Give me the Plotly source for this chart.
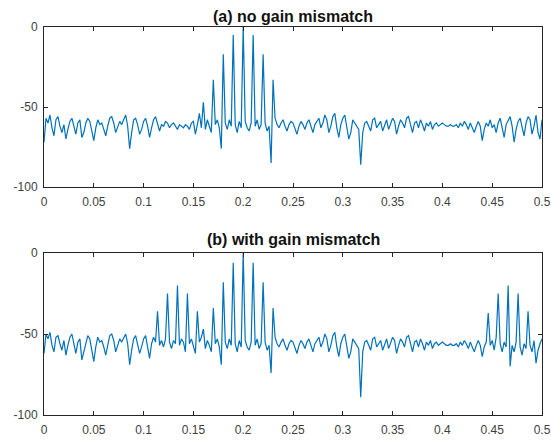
import plotly.graph_objects as go

# frequency grid: 0 to 0.5 in steps of 0.002 (251 points)
n_points = 251
freq = [i * 0.002 for i in range(n_points)]

# (a) no gain mismatch, dB
spec_a = [
    -72, -57, -60, -55, -63, -68, -58, -56, -62, -66,
    -61, -70, -64, -59, -57, -63, -67, -60, -58, -69,
    -66, -60, -57, -59, -65, -71, -63, -58, -61, -60,
    -64, -68, -62, -57, -56, -60, -66, -63, -59, -61,
    -58, -55, -62, -76, -66, -58, -57, -61, -67, -64,
    -59, -57, -62, -69, -63, -58, -56, -60, -65, -61,
    -62, -59, -60, -63, -61, -60, -62, -64, -61, -62,
    -63, -61, -62, -64, -60, -59, -67, -61, -54, -63,
    -47, -64, -58, -62, -66, -33, -61, -58, -63, -76,
    -17, -60, -64, -58, -62, -5, -61, -66, -59, -63,
    0, -59, -63, -65, -60, -5, -62, -58, -64, -61,
    -17, -60, -65, -62, -85, -33, -57, -61, -63, -60,
    -58, -62, -65, -61, -59, -60, -63, -67, -62, -59,
    -61, -64, -60, -58, -62, -66, -61, -59, -57, -63,
    -60, -55, -58, -66, -62, -56, -54, -63, -69, -61,
    -57, -55, -63, -70, -66, -58, -60, -62, -64, -86,
    -66, -60, -59, -62, -65, -58, -57, -63, -61, -59,
    -65, -62, -58, -64, -60, -57, -59, -67, -62, -58,
    -60, -63, -57, -56, -61, -66, -60, -59, -63, -58,
    -61, -65, -60, -62, -59, -64, -61, -60, -62, -61,
    -60, -61, -62, -62, -61, -62, -62, -61, -63, -60,
    -62, -59, -61, -64, -60, -63, -66, -62, -59, -62,
    -71, -64, -60, -62, -58, -63, -61, -66, -60, -57,
    -63, -69, -61, -58, -56, -62, -72, -64, -59, -57,
    -63, -68, -60, -56, -58, -67, -62, -55, -66, -70,
    -58,
]

# (b) with gain mismatch, dB
spec_b = [
    -62, -50, -53, -49, -57, -61, -52, -51, -56, -60,
    -54, -63, -57, -52, -50, -56, -62, -55, -53, -66,
    -61, -55, -51, -53, -59, -67, -58, -52, -55, -54,
    -58, -63, -57, -51, -50, -54, -61, -57, -53, -55,
    -52, -50, -56, -69, -60, -53, -51, -56, -62, -58,
    -53, -51, -57, -65, -56, -52, -55, -36, -57, -54,
    -58, -53, -25, -55, -59, -54, -56, -20, -57, -53,
    -55, -61, -25, -56, -53, -58, -62, -36, -55, -52,
    -47, -59, -54, -57, -61, -34, -56, -53, -58, -69,
    -18, -55, -59, -53, -57, -6, -56, -61, -54, -58,
    0, -54, -58, -60, -55, -6, -57, -53, -59, -56,
    -18, -55, -60, -57, -74, -34, -52, -56, -58, -55,
    -53, -57, -60, -56, -54, -55, -58, -62, -57, -54,
    -56, -59, -55, -53, -57, -61, -56, -54, -52, -58,
    -55, -50, -53, -61, -57, -51, -49, -58, -64, -56,
    -52, -50, -58, -65, -61, -53, -55, -57, -59, -89,
    -61, -55, -54, -57, -60, -53, -52, -58, -56, -54,
    -60, -57, -53, -59, -55, -52, -54, -62, -57, -53,
    -55, -58, -52, -51, -56, -61, -55, -54, -58, -53,
    -56, -60, -55, -57, -54, -59, -56, -55, -57, -56,
    -55, -56, -57, -57, -56, -57, -57, -56, -58, -55,
    -57, -54, -56, -59, -55, -58, -61, -57, -54, -57,
    -64, -58, -55, -37, -57, -54, -60, -52, -25, -56,
    -61, -55, -58, -20, -70, -57, -61, -55, -25, -58,
    -63, -56, -59, -36, -57, -61, -54, -68, -60, -56,
    -53,
]

titles = ["(a) no gain mismatch", "(b) with gain mismatch"]
x_tickvals = [0, 0.05, 0.1, 0.15, 0.2, 0.25, 0.3, 0.35, 0.4, 0.45, 0.5]
x_ticktext = ["0", "0.05", "0.1", "0.15", "0.2", "0.25", "0.3", "0.35", "0.4", "0.45", "0.5"]
y_tickvals = [-100, -50, 0]
y_ticktext = ["-100", "-50", "0"]

W, H = 551, 444
ml, mr, mt, mb = 44, 9, 27, 29
ph = H - mt - mb

def dom(top_px, bot_px):
    return [(H - mb - bot_px) / ph, (H - mb - top_px) / ph]

fig = go.Figure()
line_color = "#0072BD"
axis_color = "#262626"
label_color = "#404040"
font_family = "Liberation Sans, Arial, sans-serif"

for k, spec in enumerate([spec_a, spec_b]):
    xa = "x" if k == 0 else "x2"
    ya = "y" if k == 0 else "y2"
    fig.add_trace(go.Scatter(x=freq, y=spec, mode="lines",
                             line=dict(color=line_color, width=1.2),
                             xaxis=xa, yaxis=ya, showlegend=False,
                             hoverinfo="skip"))

ax_common = dict(showgrid=False, zeroline=False, showline=True, mirror="ticks",
                 automargin=False,
                 linecolor=axis_color, linewidth=1, ticks="inside", ticklen=4,
                 tickcolor=axis_color, tickwidth=1,
                 tickfont=dict(family=font_family, size=12, color=label_color))

d_a = dom(27, 187)
d_b = dom(253, 415)

fig.update_layout(
    width=W, height=H, autosize=False,
    margin=dict(l=ml, r=mr, t=mt, b=mb, pad=0),
    paper_bgcolor="white", plot_bgcolor="white",
    hovermode=False,
    xaxis=dict(domain=[0, 1], range=[0, 0.5], anchor="y", ticklabelstandoff=4,
               tickvals=x_tickvals, ticktext=x_ticktext, **ax_common),
    yaxis=dict(domain=d_a, range=[-100, 0], anchor="x", ticklabelstandoff=3,
               tickvals=y_tickvals, ticktext=y_ticktext, **ax_common),
    xaxis2=dict(domain=[0, 1], range=[0, 0.5], anchor="y2", ticklabelstandoff=4,
                tickvals=x_tickvals, ticktext=x_ticktext, **ax_common),
    yaxis2=dict(domain=d_b, range=[-100, 0], anchor="x2", ticklabelstandoff=3,
                tickvals=y_tickvals, ticktext=y_ticktext, **ax_common),
    annotations=[
        dict(text="<b>" + titles[0] + "</b>", x=0.5, xref="paper",
             y=d_a[1], yref="paper", yanchor="middle", yshift=11, showarrow=False,
             font=dict(family=font_family, size=16, color="#111111")),
        dict(text="<b>" + titles[1] + "</b>", x=0.5, xref="paper",
             y=d_b[1], yref="paper", yanchor="middle", yshift=13, showarrow=False,
             font=dict(family=font_family, size=16, color="#111111")),
    ],
)

fig.write_html(
    "out.html",
    config={"displayModeBar": False, "responsive": False},
    post_script="document.body.style.margin='0px';document.body.style.overflow='hidden';",
)
